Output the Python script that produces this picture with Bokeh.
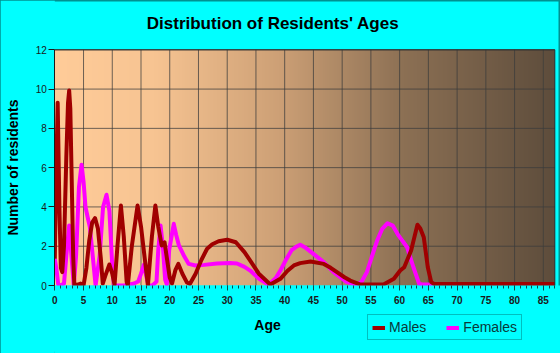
import numpy as np
from bokeh.plotting import figure
from bokeh.models import Range1d, FixedTicker, Label, Legend, LegendItem
from bokeh.embed import file_html
from bokeh.resources import INLINE

# ---- data ----
male_age = [0, 0.2, 0.5, 0.8, 1.05, 1.3, 1.6, 2.0, 2.3, 2.5, 2.7, 2.9, 3.2, 3.4, 4.0, 4.5, 5.0, 5.5, 6.0,
            6.5, 7.0, 7.5, 8.0, 8.35, 8.8, 9.5, 10.0, 10.4, 10.9, 11.5, 12.0, 12.5, 12.7, 13.4, 14.4, 15.0,
            15.8, 16.2, 16.9, 17.5, 18.0, 18.6, 19.1, 19.6, 20.0, 20.4, 21.0, 21.5, 22.2, 23.0, 23.5, 24.5,
            25.5, 26.5, 27.4, 28.5, 30.0, 31.5, 33.0, 34.0, 35.5, 37.5, 39.25, 40.5, 41.6, 42.7, 44.5,
            46.8, 48.0, 49.1, 50.4, 51.4, 53.2, 55.0, 57.2, 59.0, 60.1, 60.8, 62.0, 62.6, 63.1, 63.6,
            64.2, 64.9, 65.5, 66.0, 70, 75, 80, 87]
male_val = [1.36, 5.0, 9.3, 4.0, 0.9, 0.68, 2.0, 6.5, 9.3, 9.93, 9.0, 6.0, 1.5, 0.0, 0.05, 0.1, 0.0, 0.9,
            2.3, 3.2, 3.43, 2.9, 1.4, 0.1, 0.5, 1.07, 0.6, 0.05, 2.0, 4.07, 2.5, 0.2, 0.0, 2.0, 4.07, 3.0,
            1.0, 0.0, 2.5, 4.07, 3.0, 2.04, 2.2, 1.2, 0.4, 0.1, 0.8, 1.1, 0.6, 0.15, 0.08, 0.6, 1.3, 1.87,
            2.1, 2.25, 2.33, 2.2, 1.7, 1.27, 0.6, 0.05, 0.34, 0.75, 1.02, 1.14, 1.22, 1.10, 0.9, 0.68,
            0.42, 0.25, 0.05, 0.05, 0.05, 0.34, 0.76, 0.93, 1.78, 2.5, 3.09, 2.9, 2.46, 0.93, 0.17, 0.08,
            0.08, 0.08, 0.08, 0.08]

female_age = [0, 0.3, 0.6, 1.0, 1.6, 2.0, 2.5, 2.9, 3.3, 3.7, 4.2, 4.65, 5.0, 5.34, 5.7, 6.1, 6.6, 7.1,
              7.8, 8.4, 9.0, 9.5, 10.0, 10.3, 11.0, 12.0, 13.0, 13.8, 14.5, 15.0, 15.5, 15.9, 16.3,
              17.0, 17.7, 18.0, 18.4, 18.8, 19.2, 19.5, 19.9, 20.7, 21.1, 21.6, 22.5, 23.3, 24.5, 26.0,
              28.2, 30.5, 31.7, 33.0, 34.0, 35.5, 37.2, 38.5, 39.25, 40.2, 41.2, 42.0, 42.7, 43.5, 45.0,
              46.8, 48.5, 50.8, 52.6, 53.4, 54.3, 55.2, 56.1, 57.0, 57.9, 58.8, 59.8, 61.3, 62.4, 63.4,
              64.0, 67.0]
female_val = [1.36, 0.8, 0.05, 0.0, 0.1, 1.5, 3.06, 1.5, 0.0, 1.5, 5.0, 6.15, 5.3, 4.0, 3.5, 2.97, 1.5,
              0.0, 1.5, 4.0, 4.62, 3.8, 1.0, 0.0, 0.0, 0.0, 0.05, 0.1, 0.2, 0.6, 1.05, 0.5, 0.0, 0.0,
              0.2, 1.8, 3.06, 2.0, 0.3, 0.05, 1.8, 3.14, 2.6, 2.04, 1.5, 1.1, 1.02, 1.05, 1.12, 1.14,
              1.12, 0.95, 0.76, 0.35, 0.03, 0.4, 0.76, 1.3, 1.8, 1.97, 2.08, 1.95, 1.61, 1.19, 0.68,
              0.17, 0.03, 0.2, 0.68, 1.5, 2.3, 2.9, 3.17, 3.05, 2.55, 1.95, 0.93, 0.08, 0.05, 0.05]

x_ticks = [0, 5, 10, 15, 20, 25, 30, 35, 40, 45, 50, 55, 60, 65, 70, 75, 80, 85]
y_ticks = [0, 2, 4, 6, 8, 10, 12]
x_max = 87
y_max = 12

title_text = "Distribution of Residents' Ages"
x_label = "Age"
y_label = "Number of residents"
series_names = ["Males", "Females"]

# ---- layout (pixels) ----
W, H = 560, 353
PL, PR, PT, PB = 54.3, 554.3, 49.3, 285.0   # plot area edges in canvas pixels
kx = (PR - PL) / x_max
ky = (PB - PT) / y_max
x0_range = -PL / kx
x1_range = x0_range + W / kx
y0_range = -(H - PB) / ky
y1_range = y0_range + H / ky


def dx(px):
    return (px - PL) / kx


def dy(py):
    return (PB - py) / ky


MALE_COLOR = "#a00000"
FEMALE_COLOR = "#ff00ff"
CYAN = "#00ffff"
FONT = "Liberation Sans"
DARK = "#1a1a1a"

p = figure(width=W, height=H, output_backend="svg", toolbar_location=None,
           x_range=Range1d(x0_range, x1_range), y_range=Range1d(y0_range, y1_range),
           min_border=0, min_border_left=0, min_border_right=0, min_border_top=0, min_border_bottom=0)
p.border_fill_color = CYAN
p.background_fill_color = CYAN
p.outline_line_color = "#009090"
p.outline_line_width = 2
p.xgrid.visible = False
p.ygrid.visible = False

# gradient background of the plot area (decoration)
N = 400
stops_t = [0.0, 0.2, 0.45, 0.7, 1.0]
stops_c = [(255, 204, 153), (247, 196, 146), (205, 160, 118), (140, 112, 84), (94, 77, 60)]
t = np.linspace(0, 1, N)
img = np.empty((1, N), dtype=np.uint32)
view = img.view(dtype=np.uint8).reshape((1, N, 4))
for ch in range(3):
    view[0, :, ch] = np.interp(t, stops_t, [c[ch] for c in stops_c]).astype(np.uint8)
view[0, :, 3] = 255
bg = p.image_rgba(image=[img], x=0, y=0, dw=x_max, dh=y_max)
bg.level = "image"

# grid lines from the tick arrays
grid_x = [v for v in x_ticks if v > 0]
grid_y = [v for v in y_ticks if v > 0]
p.segment(x0=grid_x, y0=[0] * len(grid_x), x1=grid_x, y1=[y_max] * len(grid_x),
          line_color="#3c3c3c", line_alpha=0.75, line_width=1)
p.segment(x0=[0] * len(grid_y), y0=grid_y, x1=[x_max] * len(grid_y), y1=grid_y,
          line_color="#3c3c3c", line_alpha=0.75, line_width=1)

# curves
rf = p.line(female_age, female_val, line_color=FEMALE_COLOR, line_width=4, line_join="round")
rm = p.line(male_age, male_val, line_color=MALE_COLOR, line_width=4, line_join="round")

# mask outside the plot area (so curves are clipped at the plot edges)
p.quad(left=[0], right=[x1_range], bottom=[y0_range], top=[0], fill_color=CYAN, line_color=None)
p.quad(left=[x0_range], right=[0], bottom=[y0_range], top=[y1_range], fill_color=CYAN, line_color=None)

# plot frame: top and right edges
p.segment(x0=[0, x_max], y0=[y_max, 0], x1=[x_max, x_max], y1=[y_max, y_max],
          line_color="#2e2e2e", line_width=1)

# axes fixed at the plot edges
p.xaxis.fixed_location = 0
p.xaxis.ticker = FixedTicker(ticks=x_ticks, minor_ticks=list(range(0, x_max + 1)))
p.xaxis.axis_line_color = None
p.xaxis.major_tick_line_color = "#0a4a4a"
p.xaxis.minor_tick_line_color = "#0a4a4a"
p.xaxis.major_tick_out = 5
p.xaxis.major_tick_in = 0
p.xaxis.minor_tick_out = 3
p.xaxis.minor_tick_in = 0
p.xaxis.major_label_text_font = FONT
p.xaxis.major_label_text_font_size = "10px"
p.xaxis.major_label_text_font_style = "bold"
p.xaxis.major_label_text_color = DARK
p.xaxis.major_label_standoff = 5

p.yaxis.fixed_location = 0
p.yaxis.bounds = (0, y_max)
p.yaxis.ticker = FixedTicker(ticks=y_ticks)
p.yaxis.axis_line_color = DARK
p.yaxis.major_tick_line_color = DARK
p.yaxis.minor_tick_line_color = None
p.yaxis.major_tick_out = 6
p.yaxis.major_tick_in = 0
p.yaxis.major_label_text_font = FONT
p.yaxis.major_label_text_font_size = "10px"
p.yaxis.major_label_text_color = DARK
p.yaxis.major_label_standoff = 2

# texts
p.add_layout(Label(x=dx(272.5), y=dy(22.5), text=title_text, text_align="center", text_baseline="middle",
                   text_font=FONT, text_font_size="17px", text_font_style="bold", text_color="#000000"))
p.add_layout(Label(x=dx(267.0), y=dy(324.0), text=x_label, text_align="center", text_baseline="middle",
                   text_font=FONT, text_font_size="14px", text_font_style="bold", text_color="#000000"))
p.add_layout(Label(x=dx(12.5), y=dy(167.0), text=y_label, angle=np.pi / 2, text_align="center",
                   text_baseline="middle", text_font=FONT, text_font_size="14px", text_font_style="bold",
                   text_color="#000000"))

legend = Legend(items=[LegendItem(label=series_names[0], renderers=[rm]),
                       LegendItem(label=series_names[1], renderers=[rf])],
                orientation="horizontal", location=(367, H - 340))
legend.background_fill_color = CYAN
legend.background_fill_alpha = 1
legend.border_line_color = "#008080"
legend.border_line_width = 1
legend.label_text_font = FONT
legend.label_text_font_size = "14px"
legend.label_text_color = "#0a3a3a"
legend.glyph_width = 13
legend.glyph_height = 15
legend.label_height = 15
legend.spacing = 20
legend.padding = 4
legend.margin = 0
legend.label_standoff = 4
p.add_layout(legend, "center")

open("out.html", "w").write(file_html(p, INLINE))
